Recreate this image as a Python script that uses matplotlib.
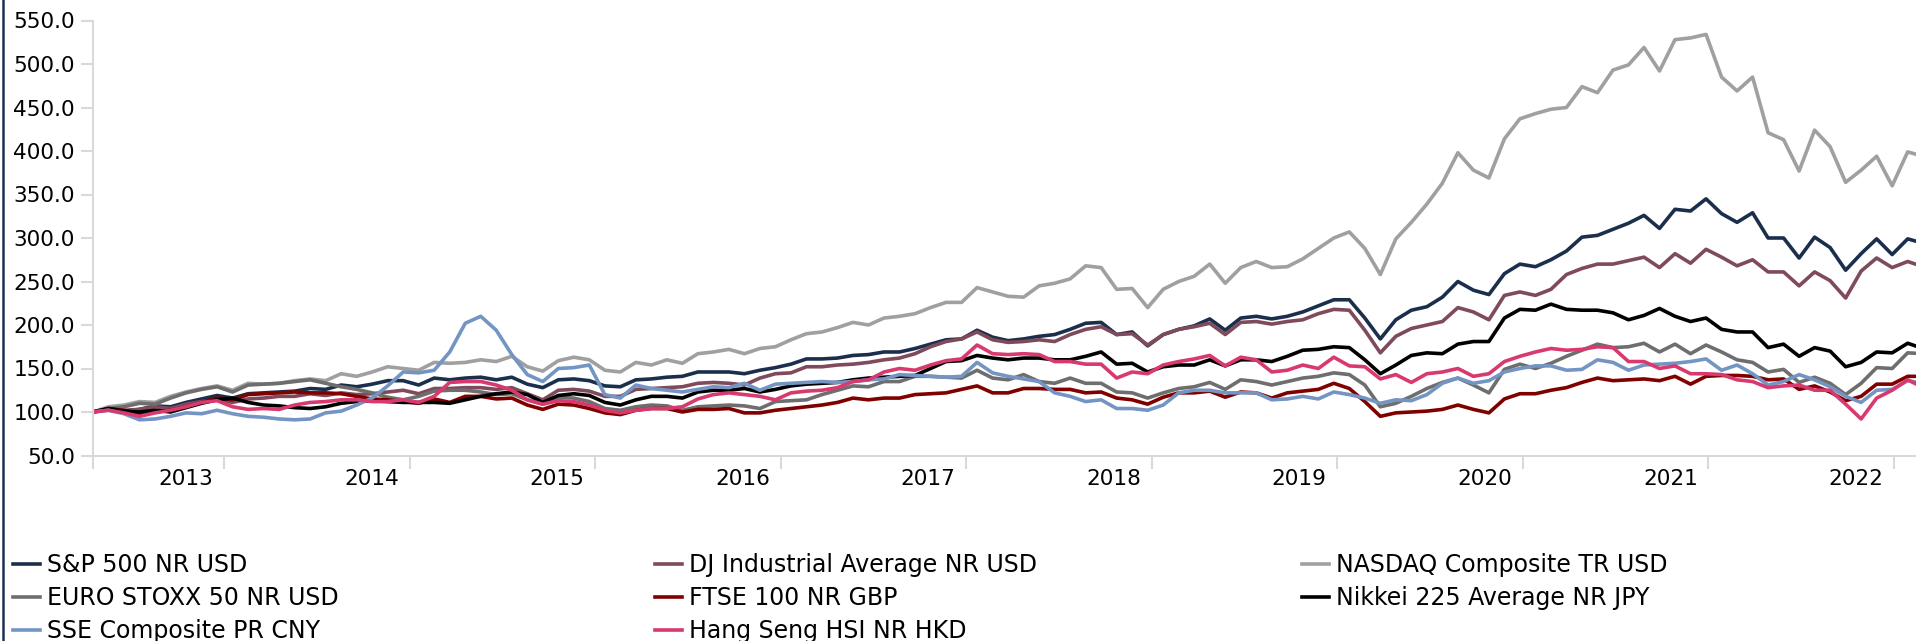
import matplotlib
matplotlib.use("Agg")
import matplotlib.pyplot as plt
import numpy as np
from matplotlib.lines import Line2D

plt.rcParams['font.family'] = ['DejaVu Sans']

# Monthly index values (start = 100)
sp500 = [100, 103, 101, 103, 107, 106, 111, 115, 119, 116, 121, 122, 123, 124, 127, 126, 131, 129, 132, 136,
         136, 131, 139, 137, 139, 140, 137, 140, 132, 128, 137,
         138, 136, 130, 129, 137, 138, 140, 141, 146, 146, 146, 144, 148, 151, 155, 161, 161, 162, 165,
         166, 169, 169, 173, 178, 183, 184, 194, 186, 182,
         184, 187, 189, 195, 202, 203, 189, 192, 176, 189, 195, 199, 207, 194, 208, 210, 207, 210, 215, 222,
         229, 229, 208, 184, 206, 217, 221, 232, 250, 240, 235,
         259, 270, 267, 275, 285, 301, 303, 310, 317, 326, 311, 333, 331, 345, 328, 318, 329, 300, 300, 277,
         301, 289, 263, 282, 299, 281, 299, 294]
dj_ind = [100, 103, 102, 103, 106, 104, 109, 112, 114, 111, 115, 116, 118, 118, 121, 119, 122, 120, 121, 123,
          125, 121, 127, 127, 128, 128, 126, 128, 121, 114, 125,
          126, 124, 118, 118, 126, 127, 128, 129, 133, 134, 133, 131, 139, 144, 145, 152, 152, 154, 155,
          157, 160, 162, 167, 175, 181, 184, 192, 183, 180,
          181, 183, 181, 189, 195, 198, 189, 190, 177, 189, 195, 198, 202, 189, 203, 204, 201, 204, 206, 213,
          218, 217, 194, 168, 187, 196, 200, 204, 220, 215, 206,
          234, 238, 234, 241, 258, 265, 270, 270, 274, 278, 266, 282, 271, 287, 278, 268, 275, 261, 261, 245,
          261, 251, 231, 262, 277, 266, 273, 267]
nasdaq = [100, 106, 108, 112, 111, 118, 123, 127, 130, 125, 133, 132, 133, 136, 138, 136, 144, 141, 146, 152,
          150, 148, 157, 156, 157, 160, 158, 164, 152, 147, 159,
          163, 160, 148, 146, 157, 154, 160, 156, 167, 169, 172, 167, 173, 175, 183, 190, 192, 197, 203,
          200, 208, 210, 213, 220, 226, 226, 243, 238, 233,
          232, 245, 248, 253, 268, 266, 241, 242, 220, 241, 250, 256, 270, 248, 266, 273, 266, 267, 276, 288,
          300, 307, 288, 258, 299, 318, 339, 363, 398, 378, 369,
          414, 437, 443, 448, 450, 474, 467, 493, 499, 519, 492, 528, 530, 534, 485, 469, 485, 421, 413, 377,
          424, 405, 364, 378, 394, 360, 399, 394]
euro_stoxx = [100, 104, 106, 110, 109, 116, 122, 126, 129, 123, 131, 132, 133, 135, 137, 133, 129, 126, 122, 117,
              114, 118, 124, 125, 125, 123, 120, 121, 114, 109, 117,
              116, 112, 104, 102, 106, 108, 107, 102, 106, 107, 108, 107, 104, 112, 113, 114, 120, 125, 130,
              129, 135, 135, 141, 141, 140, 139, 148, 139, 137,
              143, 135, 133, 139, 133, 133, 123, 122, 116, 122, 127, 129, 134, 126, 137, 135, 131, 135, 139, 141,
              145, 143, 131, 106, 110, 118, 127, 134, 139, 131, 122,
              149, 155, 150, 156, 164, 171, 178, 174, 175, 179, 169, 178, 167, 177, 169, 160, 157, 146, 149, 134,
              140, 133, 120, 133, 151, 150, 168, 167]
ftse = [100, 104, 102, 97, 100, 102, 106, 111, 116, 114, 120, 121, 122, 123, 122, 122, 121, 118, 115, 114,
        112, 110, 115, 111, 118, 118, 115, 116, 108, 103, 109,
        108, 104, 99, 97, 102, 104, 104, 100, 103, 103, 104, 99, 99, 102, 104, 106, 108, 111, 116,
        114, 116, 116, 120, 121, 122, 126, 130, 122, 122,
        127, 127, 126, 126, 122, 123, 116, 114, 109, 117, 122, 122, 124, 117, 123, 122, 116, 122, 124, 126,
        133, 127, 112, 95, 99, 100, 101, 103, 108, 103, 99,
        115, 121, 121, 125, 128, 134, 139, 136, 137, 138, 136, 141, 132, 141, 142, 142, 141, 137, 138, 126,
        130, 123, 113, 118, 132, 132, 141, 141]
nikkei = [100, 104, 101, 100, 102, 100, 105, 110, 114, 116, 111, 108, 107, 105, 104, 106, 110, 112, 113, 112,
          111, 111, 111, 110, 114, 118, 121, 123, 120, 111, 119,
          121, 119, 111, 108, 114, 118, 118, 116, 123, 125, 125, 127, 123, 126, 130, 132, 133, 134, 137,
          139, 140, 141, 142, 150, 158, 159, 165, 162, 160,
          162, 162, 160, 160, 164, 169, 155, 156, 146, 152, 154, 154, 160, 153, 160, 160, 158, 164, 171, 172,
          175, 174, 160, 144, 154, 165, 168, 167, 178, 181, 181,
          208, 218, 217, 224, 218, 217, 217, 214, 206, 211, 219, 210, 204, 208, 195, 192, 192, 174, 178, 164,
          174, 170, 152, 157, 169, 168, 179, 173]
sse = [100, 102, 98, 91, 92, 95, 99, 98, 102, 98, 95, 94, 92, 91, 92, 99, 101, 108, 116, 130,
       146, 145, 148, 169, 202, 210, 194, 166, 143, 135,
       150, 151, 154, 120, 116, 131, 127, 125, 123, 126, 129, 128, 133, 125, 132, 133, 134, 135, 134, 135,
       137, 138, 143, 142, 141, 140, 141, 157, 145, 141,
       138, 135, 122, 118, 112, 114, 104, 104, 102, 108, 122, 125, 125, 122, 122, 122, 114, 115, 118, 115,
       123, 120, 116, 110, 114, 113, 120, 133, 139, 133, 136,
       146, 150, 153, 153, 148, 149, 160, 157, 148, 154, 155, 156, 158, 161, 148, 154, 144, 131, 135, 143,
       137, 129, 118, 111, 125, 126, 136, 133]
hang_seng = [100, 102, 99, 95, 99, 102, 106, 111, 113, 106, 103, 104, 103, 108, 111, 112, 114, 114, 112, 112,
             114, 111, 118, 134, 135, 135, 131, 125, 114, 109, 113,
             112, 108, 102, 99, 102, 104, 104, 106, 115, 120, 122, 120, 118, 114, 122, 124, 125, 128, 135,
             137, 146, 150, 148, 154, 159, 161, 177, 167, 166,
             167, 166, 158, 158, 155, 155, 139, 146, 144, 154, 158, 161, 165, 153, 163, 160, 146, 148, 154, 150,
             163, 153, 152, 138, 143, 134, 144, 146, 150, 141, 144,
             158, 164, 169, 173, 171, 172, 175, 174, 158, 158, 150, 153, 144, 144, 143, 137, 135, 128, 130, 131,
             125, 125, 109, 92, 116, 125, 137, 128]

labels = ["S&P 500 NR USD", "DJ Industrial Average NR USD", "NASDAQ Composite TR USD",
          "EURO STOXX 50 NR USD", "FTSE 100 NR GBP", "Nikkei 225 Average NR JPY",
          "SSE Composite PR CNY", "Hang Seng HSI NR HKD"]
series = [sp500, dj_ind, nasdaq, euro_stoxx, ftse, nikkei, sse, hang_seng]
colors = ["#1B2F4C", "#7E4A5C", "#A0A0A0", "#6E6E6E", "#800000", "#000000", "#7495C3", "#D8396E"]
years = ["2013", "2014", "2015", "2016", "2017", "2018", "2019", "2020", "2021", "2022"]

W, H = 1916, 641
fig = plt.figure(figsize=(W / 100, H / 100), dpi=100)

px_per_month = 15.51
left_px, top_px, bot_px = 93, 20.5, 455.5
x_max = (W - left_px) / px_per_month
ax = fig.add_axes([left_px / W, 1 - bot_px / H, (W - left_px) / W, (bot_px - top_px) / H])

months = np.arange(len(sp500))
handles = []
for vals, lab, col in zip(series, labels, colors):
    h, = ax.plot(months, vals, color=col, lw=2.6, label=lab, solid_joinstyle='round')
    handles.append(h)

ax.set_xlim(0, x_max)
ax.set_ylim(50, 550)
ax.set_yticks(np.arange(50, 551, 50))
ax.set_yticklabels([f"{v:.1f}" for v in np.arange(50, 551, 50)])

# year ticks sit between the labels, as in the source chart
tick_pos = [0] + [(224 + 185.55 * k - left_px) / px_per_month for k in range(10)]
lab_pos = [(186 + 185.55 * k - left_px) / px_per_month for k in range(10)]
ax.set_xticks(tick_pos)
ax.set_xticklabels([])
ax.set_xticks(lab_pos, minor=True)
ax.set_xticklabels(years, minor=True)

grid_col = "#D9D9D9"
for s in ["top", "right"]:
    ax.spines[s].set_visible(False)
for s in ["left", "bottom"]:
    ax.spines[s].set_color(grid_col)
    ax.spines[s].set_linewidth(1.5)
ax.tick_params(axis='y', which='major', length=9, width=1.5, color=grid_col, pad=4,
               labelsize=15.6, labelcolor='black')
ax.tick_params(axis='x', which='major', length=9.5, width=1.5, color=grid_col)
ax.tick_params(axis='x', which='minor', length=0, pad=10, labelsize=15.6, labelcolor='black')

# legend: three columns, rows read left to right
col_x = [13, 655, 1302]
cols = [[0, 3, 6], [1, 4, 7], [2, 5]]
for cx, idx in zip(col_x, cols):
    fig.legend([handles[i] for i in idx], [labels[i] for i in idx], loc='upper left',
               bbox_to_anchor=(cx / W, 1 - 553 / H), frameon=False, fontsize=17,
               handlelength=1.14, handletextpad=0.3, labelspacing=0.38,
               borderpad=0, borderaxespad=0)

# dark frame line at the very left edge
fig.add_artist(Line2D([3 / W, 3 / W], [0, 1], transform=fig.transFigure, color="#1F3350", lw=1.8))

fig.savefig("out.png", dpi=100)
